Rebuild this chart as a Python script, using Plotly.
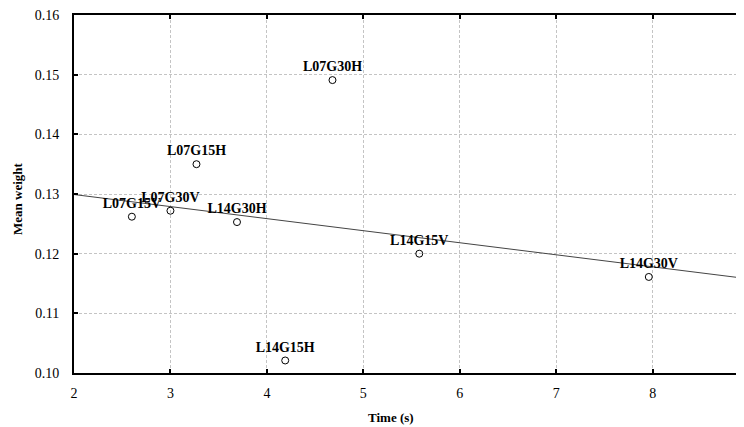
import numpy as np
import plotly.graph_objects as go

labels = ["L07G15V", "L07G30V", "L07G15H", "L14G30H", "L07G30H", "L14G15H", "L14G15V", "L14G30V"]
time_s = [2.60, 3.00, 3.27, 3.69, 4.68, 4.19, 5.58, 7.96]
mean_weight = [0.1262, 0.1272, 0.1350, 0.1253, 0.1491, 0.1021, 0.1200, 0.1161]

x_ticks = [2, 3, 4, 5, 6, 7, 8]
y_ticks = [0.10, 0.11, 0.12, 0.13, 0.14, 0.15, 0.16]
y_tick_text = ["0.10", "0.11", "0.12", "0.13", "0.14", "0.15", "0.16"]

slope, intercept = np.polyfit(time_s, mean_weight, 1)
fit_x = np.array([2.0, 9.5])
fit_y = slope * fit_x + intercept

FONT = "Liberation Serif"

fig = go.Figure()
fig.add_trace(go.Scatter(
    x=fit_x, y=fit_y, mode="lines",
    line=dict(color="#444444", width=1),
    hoverinfo="skip", showlegend=False,
))
fig.add_trace(go.Scatter(
    x=time_s, y=mean_weight, mode="markers+text",
    text=labels, textposition="top center",
    textfont=dict(family=FONT, size=14, color="black", weight="bold"),
    marker=dict(symbol="circle-open", size=7, color="black", line=dict(width=1)),
    showlegend=False, cliponaxis=False,
))

fig.update_layout(
    width=736, height=419,
    margin=dict(l=66, r=0, t=7, b=54),
    paper_bgcolor="white", plot_bgcolor="white",
    font=dict(family=FONT, size=14, color="black"),
    xaxis=dict(
        range=[2, 8.947], tickvals=x_ticks, ticks="inside", ticklen=4, tickwidth=2,
        tickcolor="black", showline=True, linecolor="black", linewidth=2,
        mirror="ticks", showgrid=True, gridcolor="#c4c4c4", griddash="3px,2px",
        gridwidth=1, zeroline=False, tickfont=dict(family=FONT, size=14),
        ticklabelstandoff=6,
    ),
    yaxis=dict(
        range=[0.10, 0.16001], tickvals=y_ticks, ticktext=y_tick_text, ticks="inside",
        ticklen=4, tickwidth=2, tickcolor="black", showline=True, linecolor="black",
        linewidth=2, showgrid=True, gridcolor="#c4c4c4", griddash="3px,2px",
        gridwidth=1, zeroline=False, tickfont=dict(family=FONT, size=14),
        ticklabelstandoff=10, ticklabeloverflow="allow",
    ),
    annotations=[
        dict(text="<b>Time (s)</b>", xref="x", yref="paper", x=5.29, y=0,
             yshift=-44, showarrow=False, xanchor="center", yanchor="middle",
             font=dict(family=FONT, size=13)),
        dict(text="<b>Mean weight</b>", xref="paper", yref="paper", x=0, y=0.5,
             xshift=-57, yshift=-5, textangle=-90, showarrow=False,
             xanchor="center", yanchor="middle", font=dict(family=FONT, size=13)),
    ],
)

fig.write_html("out.html")
